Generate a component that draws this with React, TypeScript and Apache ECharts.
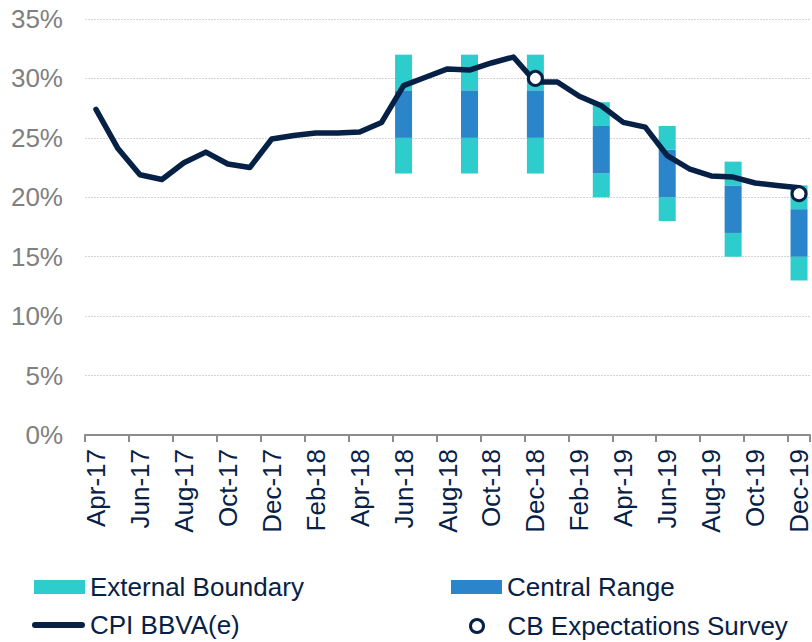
import React, { useEffect, useRef } from "react";
import * as echarts from "echarts";

const months: string[] = [
  "Apr-17", "May-17", "Jun-17", "Jul-17", "Aug-17", "Sep-17", "Oct-17", "Nov-17", "Dec-17",
  "Jan-18", "Feb-18", "Mar-18", "Apr-18", "May-18", "Jun-18", "Jul-18", "Aug-18", "Sep-18",
  "Oct-18", "Nov-18", "Dec-18", "Jan-19", "Feb-19", "Mar-19", "Apr-19", "May-19", "Jun-19",
  "Jul-19", "Aug-19", "Sep-19", "Oct-19", "Nov-19", "Dec-19",
];

const cpiBBVA: number[] = [
  27.4, 24.1, 21.9, 21.5, 22.9, 23.8, 22.8, 22.5, 24.9,
  25.2, 25.4, 25.4, 25.5, 26.3, 29.4, 30.1, 30.8, 30.7,
  31.3, 31.8, 29.7, 29.7, 28.5, 27.7, 26.3, 25.9, 23.5,
  22.4, 21.8, 21.7, 21.2, 21.0, 20.8,
];

const rangeMonths: string[] = ["Jun-18", "Sep-18", "Dec-18", "Mar-19", "Jun-19", "Sep-19", "Dec-19"];
const outerLow: number[] = [22, 22, 22, 20, 18, 15, 13];
const centralLow: number[] = [25, 25, 25, 22, 20, 17, 15];
const centralHigh: number[] = [29, 29, 29, 26, 24, 21, 19];
const outerHigh: number[] = [32, 32, 32, 28, 26, 23, 21];

const surveyMonths: string[] = ["Dec-18", "Dec-19"];
const surveyValues: number[] = [30.0, 20.3];

const NAVY = "#072146";
const TEAL = "#2dcdcd";
const BLUE = "#2a85cb";
const FONT = "'Liberation Sans', Arial, sans-serif";

function spread(keys: string[], vals: number[]): (number | string)[] {
  return months.map((m) => {
    const i = keys.indexOf(m);
    return i >= 0 ? vals[i] : "-";
  });
}

export default function App() {
  const ref = useRef<HTMLDivElement>(null);
  useEffect(() => {
    if (!ref.current) return;
    const chart = echarts.init(ref.current, null, { renderer: "svg" });
    const base = spread(rangeMonths, outerLow);
    const lowTeal = spread(rangeMonths, centralLow.map((v, i) => v - outerLow[i]));
    const mid = spread(rangeMonths, centralHigh.map((v, i) => v - centralLow[i]));
    const highTeal = spread(rangeMonths, outerHigh.map((v, i) => v - centralHigh[i]));
    const survey = spread(surveyMonths, surveyValues);

    const legendText = { fontSize: 26, color: NAVY, fontFamily: FONT };
    const option: any = {
      animation: false,
      grid: { left: 85, right: 0, top: 19, bottom: 207, containLabel: false },
      legend: [
        {
          left: 34, top: 574, padding: 0, itemWidth: 51, itemHeight: 14,
          data: [{ name: "External Boundary", icon: "rect" }],
          textStyle: legendText, selectedMode: false,
        },
        {
          left: 32, top: 612, padding: 0, itemWidth: 53, itemHeight: 6,
          data: [{ name: "CPI BBVA(e)", icon: "path://M3,0 L50,0 A3,3 0 0 1 50,6 L3,6 A3,3 0 0 1 3,0 Z", itemStyle: { color: NAVY } }],
          textStyle: legendText, selectedMode: false,
        },
        {
          left: 451, top: 574, padding: 0, itemWidth: 51, itemHeight: 14,
          data: [{ name: "Central Range", icon: "rect" }],
          textStyle: legendText, selectedMode: false,
        },
        {
          left: 469, top: 613, padding: 0, itemWidth: 51, itemHeight: 13,
          data: [{ name: "CB Expectations Survey", icon: "circle", itemStyle: { color: "#ffffff", borderColor: NAVY, borderWidth: 3 } }],
          textStyle: legendText, selectedMode: false,
        },
      ],
      xAxis: {
        type: "category",
        data: months,
        boundaryGap: true,
        axisLine: { show: true, lineStyle: { color: "#8c8c8c", width: 2 } },
        axisTick: { show: true, interval: 1, length: 7, lineStyle: { color: "#8c8c8c", width: 2 } },
        axisLabel: { interval: 1, rotate: 90, margin: 14, fontSize: 26, color: NAVY, fontFamily: FONT },
        splitLine: { show: false },
      },
      yAxis: {
        type: "value",
        min: 0,
        max: 35,
        interval: 5,
        axisLine: { show: false },
        axisTick: { show: false },
        axisLabel: { formatter: "{value}%", fontSize: 26, color: "#808080", margin: 22, fontFamily: FONT },
        splitLine: { show: true, lineStyle: { color: "#d4d4d4", width: 1, type: [2, 1] } },
      },
      series: [
        { name: "base", type: "bar", stack: "r", data: base, barWidth: 17, itemStyle: { color: "transparent" }, silent: true },
        { name: "External Boundary", type: "bar", stack: "r", data: lowTeal, barWidth: 17, itemStyle: { color: TEAL } },
        { name: "Central Range", type: "bar", stack: "r", data: mid, barWidth: 17, itemStyle: { color: BLUE } },
        { name: "External Boundary", type: "bar", stack: "r", data: highTeal, barWidth: 17, itemStyle: { color: TEAL } },
        {
          name: "CPI BBVA(e)", type: "line", data: cpiBBVA, symbol: "none", z: 5,
          lineStyle: { color: NAVY, width: 5.5, cap: "round", join: "round" },
          itemStyle: { color: NAVY },
        },
        {
          name: "CB Expectations Survey", type: "scatter", data: survey, symbol: "circle", symbolSize: 14, z: 6,
          itemStyle: { color: "#ffffff", borderColor: NAVY, borderWidth: 3, opacity: 1 },
        },
      ],
    };
    chart.setOption(option);
    return () => chart.dispose();
  }, []);
  return (
    <div
      ref={ref}
      style={{ position: "absolute", left: 0, top: 0, width: 812, height: 642, background: "#ffffff" }}
    />
  );
}
